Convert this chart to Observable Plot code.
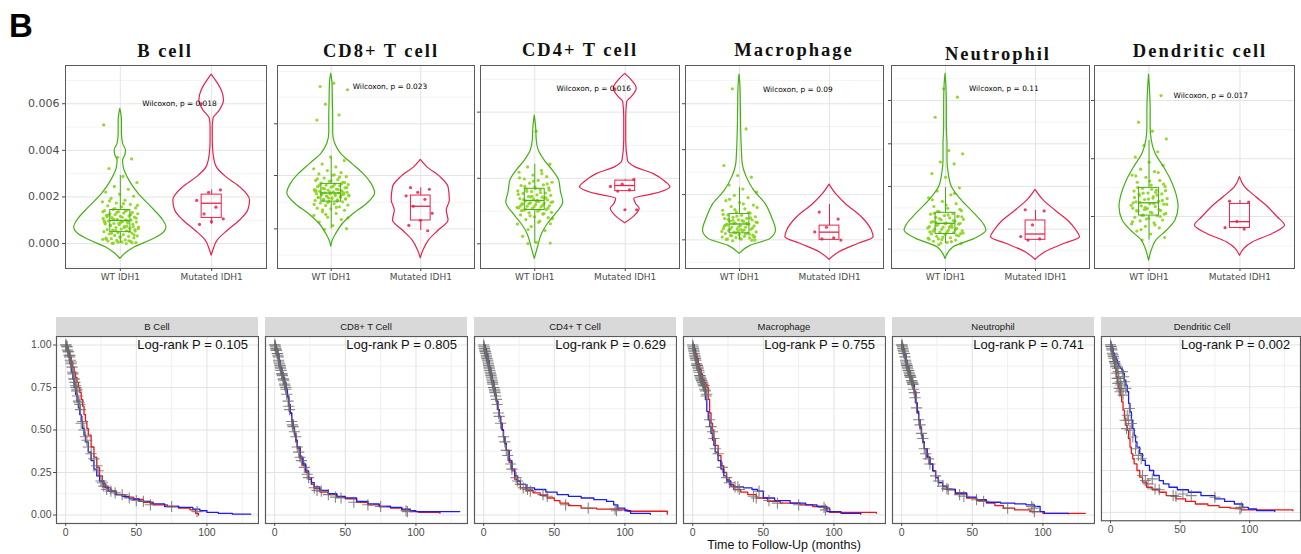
<!DOCTYPE html>
<html>
<head>
<meta charset="utf-8">
<script src="https://cdn.jsdelivr.net/npm/d3@7"></script>
<script src="https://cdn.jsdelivr.net/npm/@observablehq/plot@0.6"></script>
<style>
  html, body { margin: 0; padding: 0; background: #fff; }
  #fig { position: relative; width: 1301px; height: 554px; overflow: hidden; background: #fff; }
  .abs { position: absolute; }
  .title { font-family: "Liberation Serif", "DejaVu Serif", serif; font-weight: bold; font-size: 18.5px; letter-spacing: 2px; color: #111; white-space: nowrap; transform: translateX(-50%); }
  .strip { background: #d9d9d9; font-family: "Liberation Sans", Arial, sans-serif; font-size: 9.5px; color: #1a1a1a; text-align: center; line-height: 19px; height: 19px; }
</style>
</head>
<body>
<div id="fig"></div>
<script>
// ---------------- DATA ----------------
// Top row: immune-cell infiltration (values in units of 10^-3) by IDH1 status
const cellTitles = ["B cell", "CD8+ T cell", "CD4+ T cell", "Macrophage", "Neutrophil", "Dendritic cell"];
const groupLabels = ["WT IDH1", "Mutated IDH1"];
const wilcoxonP = ["0.018", "0.023", "0.016", "0.09", "0.11", "0.017"];

// violin outlines: [value, half-width]
const violinWT_B = [[5.78,0],[5.28,0.018],[4.71,0.018],[4.28,0.03],[3.99,0.062],[3.78,0.055],[3.56,0.03],[3.28,0.036],[2.70,0.10],[2.13,0.20],[1.56,0.34],[0.99,0.47],[0.70,0.505],[0.41,0.46],[0.13,0.33],[-0.16,0.16],[-0.44,0.054],[-0.66,0]];
const violinMut_B = [[7.25,0],[6.85,0.07],[6.57,0.11],[6.14,0.135],[5.71,0.09],[5.35,0.02],[5.0,0.012],[4.42,0.012],[3.85,0.02],[3.28,0.055],[2.85,0.16],[2.42,0.31],[1.85,0.42],[1.42,0.40],[0.99,0.31],[0.56,0.18],[0.13,0.065],[-0.30,0.018],[-0.52,0]];
const violinWT_CD8 = [[7.28,0],[6.85,0.015],[6.14,0.018],[5.42,0.022],[4.71,0.022],[4.28,0.044],[3.85,0.11],[3.42,0.235],[2.99,0.36],[2.56,0.45],[2.16,0.49],[1.70,0.40],[1.27,0.25],[0.84,0.13],[0.41,0.055],[0.13,0.018],[-0.13,0]];
const violinMut_CD8 = [[3.59,0],[3.28,0.072],[2.85,0.22],[2.42,0.31],[1.85,0.325],[1.42,0.29],[0.99,0.31],[0.56,0.2],[0.13,0.09],[-0.30,0.03],[-0.63,0]];
const violinWT_CD4 = [[5.49,0],[4.99,0.015],[4.42,0.022],[3.99,0.044],[3.56,0.11],[3.13,0.2],[2.70,0.27],[2.20,0.29],[1.77,0.315],[1.27,0.235],[0.84,0.145],[0.41,0.08],[-0.16,0.036],[-0.66,0]];
const violinMut_CD4 = [[7.28,0],[7.0,0.072],[6.64,0.127],[6.28,0.072],[6.07,0.022],[5.42,0.011],[4.42,0.011],[3.56,0.03],[3.28,0.11],[2.99,0.31],[2.63,0.45],[2.42,0.5],[2.13,0.33],[1.92,0.10],[1.70,0.12],[1.49,0.16],[1.20,0.11],[0.87,0]];
const violinWT_Mac = [[7.25,0],[6.71,0.011],[5.85,0.015],[5.0,0.018],[4.13,0.025],[3.42,0.036],[2.85,0.08],[2.27,0.163],[1.70,0.29],[1.13,0.36],[0.56,0.405],[0.20,0.345],[-0.09,0.127],[-0.44,0]];
const violinMut_Mac = [[2.53,0],[2.13,0.072],[1.70,0.18],[1.13,0.36],[0.56,0.47],[0.27,0.49],[-0.01,0.325],[-0.37,0.11],[-0.70,0]];
const violinWT_Neu = [[7.28,0],[6.71,0.011],[5.85,0.015],[5.0,0.015],[4.28,0.022],[3.56,0.022],[2.99,0.036],[2.42,0.072],[1.85,0.18],[1.27,0.325],[0.77,0.435],[0.56,0.455],[0.20,0.325],[-0.16,0.09],[-0.66,0]];
const violinMut_Neu = [[2.30,0],[1.85,0.09],[1.42,0.22],[0.99,0.36],[0.56,0.455],[0.27,0.495],[-0.01,0.325],[-0.37,0.11],[-0.70,0]];
const violinWT_DC = [[7.25,0],[6.57,0.011],[5.71,0.018],[4.99,0.018],[4.42,0.03],[3.85,0.072],[3.28,0.163],[2.70,0.245],[2.13,0.3],[1.56,0.325],[0.99,0.29],[0.56,0.2],[0.13,0.08],[-0.30,0.03],[-0.73,0]];
const violinMut_DC = [[2.85,0],[2.42,0.055],[1.99,0.18],[1.56,0.31],[1.13,0.415],[0.77,0.495],[0.41,0.36],[0.06,0.145],[-0.52,0]];

// boxes: [lower whisker, q1, median, q3, upper whisker]
const boxWT = [[0.01,0.49,0.99,1.44,2.92],[0.63,1.80,2.17,2.56,3.70],[0.0,1.44,1.85,2.35,3.40],[0.16,0.44,0.84,1.27,2.40],[0.0,0.41,0.87,1.32,2.40],[0.15,1.20,1.75,2.39,4.42]];
const boxMut = [[0.82,1.10,1.73,2.10,2.30],[0.56,0.99,1.60,2.06,2.39],[2.25,2.25,2.49,2.70,2.75],[0.16,0.16,0.49,0.77,1.67],[0.16,0.16,0.41,0.99,1.42],[0.62,0.67,0.94,1.70,1.85]];

// individual samples
const pointsWT_B = [0.02,0.04,0.07,0.11,0.09,0.14,0.18,0.16,0.21,0.24,0.27,0.23,0.31,0.35,0.33,0.38,0.42,0.45,0.47,0.51,0.55,0.58,0.54,0.62,0.6,0.66,0.69,0.71,0.74,0.77,0.73,0.81,0.84,0.88,0.86,0.92,0.95,0.97,1.01,1.04,1.08,1.02,1.11,1.14,1.17,1.21,1.19,1.24,1.28,1.31,1.27,1.34,1.37,1.41,1.43,1.47,1.53,1.58,1.62,1.68,1.74,1.79,1.86,1.94,2.03,2.12,2.21,2.33,2.45,2.62,2.88,3.22,3.63,3.7,5.09,0.0,0.01,0.6,0.9,1.15,
  0.52,0.57,0.64,0.68,0.79,0.83,0.87,0.91,0.96,1.05,1.09,1.13,1.22,1.25,1.33,1.36,1.39,0.44,0.37,0.29,0.19,0.12,1.5,1.64,1.71,1.83,0.03,0.06,0.97,0.74];
const pointsMut_B = [6.0,2.3,2.2,1.85,1.56,1.27,1.06,0.94,0.82];
const pointsWT_CD8 = [0.61,0.64,0.77,0.92,1.03,1.13,1.21,1.29,1.36,1.43,1.49,1.52,1.58,1.63,1.65,1.71,1.74,1.79,1.81,1.85,1.88,1.9,1.92,1.96,1.97,2.0,2.03,2.05,2.06,2.09,2.12,2.13,2.14,2.17,2.18,2.2,2.22,2.24,2.26,2.29,2.31,2.33,2.37,2.39,2.42,2.44,2.48,2.51,2.53,2.55,2.59,2.63,2.67,2.71,2.74,2.81,2.87,2.93,2.99,3.04,3.13,3.21,3.29,3.41,3.56,3.72,5.3,5.52,5.98,6.6,6.88,6.74,2.1,1.95,2.25,
  1.82,1.86,1.91,1.94,1.99,2.01,2.04,2.08,2.11,2.15,2.19,2.21,2.27,2.32,2.35,2.4,2.45,2.5,2.57,1.76,1.68,1.55,1.45,2.62,2.69,2.78,2.85,1.25,1.1,2.95];
const pointsMut_CD8 = [2.4,2.33,2.2,2.05,1.9,1.6,1.3,1.0,0.78,0.55];
const pointsWT_CD4 = [0.0,0.02,0.05,0.31,0.56,0.73,0.84,0.96,1.03,1.11,1.15,1.23,1.26,1.32,1.34,1.39,1.43,1.46,1.51,1.53,1.57,1.6,1.62,1.67,1.69,1.73,1.75,1.79,1.81,1.83,1.87,1.91,1.93,1.99,2.01,2.07,2.09,2.15,2.17,2.23,2.26,2.31,2.34,2.39,2.42,2.49,2.52,2.59,2.63,2.71,2.77,2.87,2.94,3.06,3.14,3.29,3.41,4.82,1.7,1.95,2.0,1.55,
  1.45,1.48,1.52,1.58,1.61,1.64,1.71,1.77,1.85,1.89,1.97,2.03,2.11,2.19,2.24,2.29,2.36,1.41,1.29,1.19,1.07,0.91,2.45,2.56,2.68,2.82,3.0,0.6,0.85,1.8];
const pointsMut_CD4 = [6.64,2.75,2.55,2.45,2.3,2.25,1.45,1.45];
const pointsWT_Mac = [0.12,0.15,0.19,0.2,0.24,0.26,0.28,0.31,0.35,0.36,0.38,0.43,0.45,0.49,0.5,0.55,0.56,0.61,0.63,0.65,0.7,0.71,0.76,0.77,0.82,0.84,0.89,0.9,0.95,0.96,1.01,1.02,1.07,1.08,1.13,1.15,1.21,1.23,1.31,1.35,1.43,1.49,1.59,1.65,1.76,1.84,1.97,2.07,2.21,2.34,2.51,2.85,2.92,3.35,4.92,6.64,0.3,0.6,0.8,0.4,
  0.46,0.52,0.58,0.62,0.67,0.73,0.79,0.83,0.86,0.92,0.98,1.04,1.1,1.18,1.25,0.41,0.33,0.27,0.22,0.17,1.33,1.46,1.55,1.7,1.9,0.14,0.52,0.75,0.88,1.0];
const pointsMut_Mac = [1.35,1.05,0.7,0.5,0.25,0.2,0.15];
const pointsWT_Neu = [-0.05,0.0,0.05,0.1,0.15,0.17,0.23,0.25,0.31,0.33,0.39,0.41,0.47,0.49,0.55,0.57,0.63,0.65,0.71,0.73,0.79,0.81,0.87,0.88,0.94,0.96,1.02,1.04,1.1,1.12,1.18,1.2,1.26,1.28,1.36,1.41,1.51,1.59,1.71,1.81,1.96,2.09,2.26,2.39,2.85,3.0,3.42,3.5,3.85,3.99,5.42,6.28,6.64,0.5,0.7,0.2,
  0.43,0.48,0.53,0.59,0.61,0.67,0.75,0.77,0.83,0.86,0.91,0.99,1.07,1.15,1.23,1.3,0.36,0.28,0.19,0.08,1.38,1.47,1.65,1.88,2.15,0.02,0.45,0.69,0.92,1.16];
const pointsMut_Neu = [1.45,1.4,0.8,0.3,0.2,0.15];
const pointsWT_DC = [0.15,0.26,0.41,0.54,0.67,0.74,0.84,0.89,0.97,1.01,1.09,1.13,1.19,1.22,1.29,1.32,1.39,1.42,1.49,1.52,1.59,1.62,1.69,1.71,1.79,1.82,1.89,1.93,2.01,2.05,2.13,2.17,2.25,2.29,2.37,2.44,2.51,2.63,2.71,2.84,2.94,3.09,3.19,3.36,3.49,3.71,3.94,4.21,4.49,4.82,5.21,6.35,1.5,1.75,2.2,
  1.21,1.26,1.35,1.41,1.46,1.55,1.64,1.72,1.77,1.85,1.91,1.98,2.08,2.16,2.27,2.33,2.41,1.16,1.05,0.93,0.8,0.6,2.55,2.68,2.9,3.05,1.45,1.68,1.95,2.12];
const pointsMut_DC = [1.82,1.78,0.95,0.68,0.62];

// Bottom row: Kaplan-Meier overall survival, [months, survival]
const stripTitles = ["B Cell", "CD8+ T Cell", "CD4+ T Cell", "Macrophage", "Neutrophil", "Dendritic Cell"];
const logRankP = ["0.105", "0.805", "0.629", "0.755", "0.741", "0.002"];
const kmRed_B = [[0,1],[1,0.98],[2,0.955],[3,0.93],[4,0.9],[5,0.87],[6,0.84],[7,0.81],[8,0.78],[9,0.75],[10,0.72],[11,0.68],[12,0.64],[13,0.59],[14,0.55],[15,0.51],[16,0.47],[18,0.4],[20,0.34],[22,0.28],[24,0.23],[26,0.185],[28,0.16],[32,0.14],[36,0.12],[42,0.105],[48,0.092],[55,0.075],[62,0.06],[72,0.05],[80,0.04],[88,0.03],[92,0.01],[94,0.0]];
const kmBlue_B = [[0,1],[1,0.97],[2,0.93],[3,0.89],[4,0.84],[5,0.8],[6,0.75],[7,0.71],[8,0.67],[9,0.63],[10,0.59],[11,0.55],[12,0.51],[13,0.47],[14,0.43],[16,0.37],[18,0.32],[20,0.27],[22,0.23],[24,0.2],[27,0.165],[30,0.14],[35,0.12],[40,0.11],[45,0.095],[52,0.08],[60,0.065],[70,0.05],[80,0.045],[90,0.035],[95,0.025],[100,0.015],[108,0.01],[118,0.005],[131,0.005]];
const censor_B = [[0,1],[1,0.99],[2,0.96],[3,0.94],[4,0.9],[4.5,0.87],[5,0.84],[6,0.8],[6.5,0.78],[7,0.76],[8,0.74],[8.5,0.7],[9,0.67],[10,0.65],[11,0.54],[14,0.46],[15,0.44],[20,0.33],[22,0.29],[25,0.2],[26,0.19],[29,0.15],[32,0.14],[35,0.13],[40,0.12],[45,0.1],[50,0.085],[55,0.08],[60,0.06],[75,0.05],[93,0.02],
  [0.3,1],[0.8,0.99],[1.3,0.97],[1.8,0.96],[2.3,0.94],[2.8,0.93],[3.3,0.91],[3.8,0.89],[5.2,0.83],[5.8,0.8],[7.3,0.75],[7.8,0.73],[9.5,0.66],[10.5,0.62],[12,0.55],[13,0.5],[16,0.4],[18,0.36],[23,0.26],[27,0.17]];
const kmRed_CD8 = [[0,1],[1,0.97],[2,0.94],[3,0.9],[4,0.86],[5,0.83],[6,0.8],[7,0.77],[8,0.74],[9,0.69],[10,0.64],[11,0.6],[12,0.55],[13,0.51],[14,0.47],[15,0.43],[16,0.39],[18,0.33],[20,0.29],[22,0.25],[24,0.21],[26,0.18],[28,0.155],[32,0.135],[38,0.12],[44,0.105],[50,0.095],[58,0.075],[66,0.06],[74,0.05],[82,0.04],[90,0.03],[96,0.02],[102,0.015],[117,0.01]];
const kmBlue_CD8 = [[0,1],[1,0.98],[2,0.95],[3,0.91],[4,0.87],[5,0.84],[6,0.81],[7,0.78],[8,0.74],[9,0.7],[10,0.65],[11,0.6],[12,0.56],[13,0.52],[14,0.48],[15,0.44],[16,0.4],[18,0.34],[20,0.3],[22,0.26],[24,0.22],[26,0.19],[28,0.165],[32,0.145],[38,0.125],[44,0.11],[50,0.1],[58,0.08],[66,0.065],[74,0.05],[82,0.045],[90,0.035],[96,0.025],[100,0.02],[131,0.02]];
const censor_CD8 = [[0,1],[0.5,0.99],[1,0.97],[2,0.95],[2.5,0.93],[3,0.9],[4,0.87],[4.5,0.85],[5,0.83],[5.5,0.82],[6,0.8],[6.5,0.79],[7,0.77],[8,0.74],[8.5,0.71],[10,0.64],[13,0.52],[14,0.49],[15,0.46],[19,0.32],[21,0.28],[23,0.24],[24,0.22],[28,0.16],[30,0.145],[33,0.14],[38,0.12],[43,0.105],[47,0.1],[56,0.075],[66,0.06],[75,0.05],[93,0.025],[94,0.02],
  [0.3,1],[0.8,0.98],[1.3,0.97],[1.8,0.95],[2.3,0.94],[2.8,0.91],[3.3,0.89],[3.8,0.88],[4.3,0.86],[5.2,0.83],[6.2,0.8],[7.3,0.76],[7.8,0.75],[9.5,0.67],[10.5,0.62],[12,0.55],[12.5,0.53],[16,0.4],[17,0.37],[18,0.34]];
const kmRed_CD4 = [[0,1],[1,0.97],[2,0.93],[3,0.9],[4,0.86],[5,0.82],[6,0.79],[7,0.75],[8,0.71],[9,0.67],[10,0.62],[11,0.58],[12,0.54],[13,0.5],[14,0.46],[15,0.42],[16,0.38],[18,0.31],[20,0.26],[22,0.21],[24,0.18],[26,0.16],[30,0.145],[35,0.13],[40,0.115],[45,0.1],[50,0.085],[54,0.07],[60,0.055],[69,0.04],[80,0.035],[95,0.03],[102,0.022],[130,0.022],[130,0.005]];
const kmBlue_CD4 = [[0,1],[1,0.98],[2,0.95],[3,0.91],[4,0.87],[5,0.83],[6,0.79],[7,0.75],[8,0.71],[9,0.67],[10,0.62],[11,0.58],[12,0.54],[13,0.5],[14,0.46],[15,0.42],[16,0.38],[18,0.32],[20,0.27],[22,0.23],[24,0.2],[26,0.18],[30,0.16],[36,0.15],[44,0.135],[52,0.12],[60,0.11],[69,0.1],[78,0.09],[87,0.08],[92,0.06],[95,0.04],[100,0.025],[104,0.01],[118,0.004]];
const censor_CD4 = [[0,1],[0.5,0.98],[1,0.96],[1.5,0.95],[2,0.93],[3,0.9],[3.5,0.88],[4,0.86],[5,0.83],[5.5,0.81],[6,0.79],[6.5,0.77],[7,0.75],[7.5,0.74],[8,0.72],[8.5,0.7],[9,0.68],[11,0.58],[14,0.46],[15,0.43],[19,0.3],[20,0.27],[23,0.22],[24,0.2],[26,0.18],[28,0.16],[31,0.15],[33,0.14],[42,0.12],[45,0.11],[58,0.06],[74,0.04],[93,0.035],[94,0.025],
  [0.3,0.99],[0.8,0.97],[1.3,0.96],[1.8,0.94],[2.3,0.92],[2.8,0.91],[3.3,0.89],[3.8,0.87],[4.3,0.85],[4.7,0.84],[5.2,0.82],[5.8,0.8],[6.2,0.78],[7.2,0.75],[7.8,0.73],[9.5,0.65],[10.5,0.6],[12,0.54],[16,0.38],[17,0.35]];
const kmRed_Mac = [[0,1],[1,0.98],[2,0.95],[3,0.92],[4,0.89],[5,0.86],[6,0.83],[7,0.8],[8,0.78],[9,0.77],[10,0.75],[11,0.68],[12,0.6],[13,0.54],[14,0.5],[15,0.45],[16,0.41],[18,0.35],[20,0.29],[22,0.25],[24,0.21],[26,0.18],[29,0.15],[34,0.135],[39,0.12],[45,0.1],[53,0.08],[62,0.07],[76,0.06],[85,0.05],[93,0.04],[97,0.015],[130,0.01]];
const kmBlue_Mac = [[0,1],[1,0.97],[2,0.93],[3,0.89],[4,0.86],[5,0.83],[6,0.8],[7,0.77],[8,0.75],[9,0.68],[10,0.61],[11,0.56],[12,0.52],[13,0.48],[14,0.44],[15,0.41],[16,0.37],[18,0.32],[20,0.27],[22,0.23],[24,0.2],[27,0.17],[30,0.165],[36,0.16],[42,0.15],[46,0.14],[50,0.1],[58,0.085],[69,0.07],[80,0.06],[88,0.05],[95,0.02],[105,0.01],[119,0.005]];
const censor_Mac = [[0,1],[0.5,0.98],[1,0.96],[1.5,0.94],[2,0.92],[3,0.88],[4,0.86],[4.5,0.84],[5,0.82],[5.5,0.81],[6,0.8],[6.5,0.79],[7,0.78],[8,0.76],[9,0.73],[10,0.71],[14,0.49],[15,0.45],[18,0.36],[21,0.28],[24,0.22],[26,0.19],[32,0.165],[33,0.15],[43,0.11],[45,0.1],[47,0.14],[54,0.085],[60,0.07],[75,0.06],[93,0.045],[94,0.03],
  [0.3,0.99],[0.8,0.97],[1.3,0.95],[1.8,0.93],[2.3,0.91],[2.8,0.89],[3.3,0.88],[3.8,0.87],[4.3,0.85],[5.2,0.82],[5.8,0.8],[6.2,0.79],[7.3,0.77],[7.8,0.76],[8.5,0.74],[9.5,0.7],[12,0.56],[13,0.52],[16,0.39],[30,0.165]];
const kmRed_Neu = [[0,1],[1,0.97],[2,0.94],[3,0.9],[4,0.87],[5,0.84],[6,0.81],[7,0.78],[8,0.76],[9,0.73],[10,0.66],[11,0.6],[12,0.56],[13,0.52],[14,0.47],[15,0.43],[16,0.39],[18,0.34],[20,0.3],[22,0.26],[24,0.22],[26,0.19],[29,0.165],[32,0.15],[38,0.125],[46,0.1],[53,0.085],[60,0.07],[66,0.055],[72,0.04],[80,0.03],[91,0.02],[100,0.01],[130,0.01]];
const kmBlue_Neu = [[0,1],[1,0.98],[2,0.95],[3,0.91],[4,0.88],[5,0.85],[6,0.82],[7,0.79],[8,0.77],[9,0.72],[10,0.66],[11,0.61],[12,0.56],[13,0.51],[14,0.47],[15,0.43],[16,0.39],[18,0.34],[20,0.3],[22,0.26],[24,0.22],[26,0.19],[29,0.17],[32,0.15],[38,0.13],[46,0.105],[53,0.09],[60,0.075],[70,0.07],[80,0.065],[88,0.06],[94,0.05],[98,0.02],[101,0.01],[118,0.008]];
const censor_Neu = [[0,1],[0.5,0.99],[1,0.97],[2,0.95],[3,0.9],[3.5,0.88],[4,0.87],[5,0.85],[5.5,0.83],[6,0.82],[6.5,0.81],[7,0.79],[7.5,0.78],[8,0.77],[8.5,0.74],[9,0.72],[13,0.53],[14,0.48],[15,0.45],[19,0.33],[20,0.3],[24,0.23],[26,0.2],[29,0.17],[32,0.155],[33,0.15],[41,0.12],[44,0.11],[53,0.09],[58,0.08],[75,0.04],[92,0.05],[93,0.04],[94,0.02],
  [0.3,1],[0.8,0.98],[1.3,0.96],[1.8,0.95],[2.3,0.93],[2.8,0.91],[3.3,0.89],[3.8,0.88],[4.3,0.86],[4.7,0.85],[5.2,0.84],[5.8,0.82],[6.2,0.81],[7.2,0.79],[7.8,0.77],[9.5,0.69],[10.5,0.63],[12,0.56],[16,0.39],[17,0.36]];
const kmRed_DC = [[0,1],[1,0.96],[2,0.91],[3,0.86],[4,0.81],[5,0.77],[6,0.74],[7,0.7],[8,0.66],[9,0.61],[10,0.56],[11,0.52],[12,0.49],[13,0.44],[14,0.39],[15,0.35],[16,0.32],[17,0.29],[19,0.25],[21,0.21],[23,0.18],[26,0.15],[30,0.135],[35,0.12],[40,0.1],[47,0.08],[54,0.065],[61,0.05],[70,0.04],[78,0.03],[86,0.025],[94,0.015],[131,0.01]];
const kmBlue_DC = [[0,1],[1,0.98],[2,0.95],[3,0.93],[4,0.91],[5,0.89],[6,0.87],[7,0.86],[8,0.85],[9,0.83],[10,0.79],[11,0.76],[12,0.72],[13,0.65],[14,0.6],[15,0.55],[16,0.5],[17,0.46],[18,0.42],[19,0.39],[21,0.35],[23,0.31],[25,0.28],[28,0.25],[31,0.22],[35,0.19],[38,0.17],[42,0.15],[48,0.135],[56,0.12],[65,0.1],[75,0.08],[82,0.065],[89,0.05],[95,0.03],[99,0.02],[105,0.01],[118,0.005]];
const censor_DC = [[0,1],[0.5,0.99],[1,0.97],[2,0.93],[3,0.9],[4,0.88],[5,0.86],[5.5,0.84],[6,0.8],[7,0.78],[7.5,0.76],[8,0.73],[9,0.7],[10,0.78],[11,0.74],[12,0.58],[13,0.55],[14,0.49],[16,0.45],[18,0.38],[20,0.34],[23,0.22],[25,0.19],[27,0.17],[30,0.2],[32,0.14],[35,0.135],[45,0.1],[47,0.095],[52,0.11],[58,0.1],[75,0.09],[93,0.02],[94,0.03],
  [0.3,0.99],[0.8,0.98],[1.3,0.95],[1.8,0.94],[2.3,0.92],[2.8,0.9],[3.3,0.89],[3.8,0.87],[4.3,0.83],[4.7,0.8],[5.2,0.77],[6.2,0.74],[6.8,0.72],[8.5,0.84],[9.5,0.81],[10.5,0.55],[11.5,0.5],[13.5,0.62],[15,0.53],[22,0.32]];

// ---------------- LAYOUT / STYLE ----------------
const fig = document.getElementById("fig");
const GREEN_LINE = "#45b012", GREEN_PT = "#8ad417", RED = "#e8224c";
const topFrames = [[65,266],[277,474],[480,679],[685,883],[891,1089],[1094,1294]];
const topTitleX = [165, 381, 580, 794, 998, 1200];
const topTitleY = [41, 41, 40, 40, 44, 41];
const topTicks = [ // major/minor gridline positions per panel (same units)
  {major:[0,2,4,6], minor:[-1,1,3,5,7]},
  {major:[0.63,2.92,5.14], minor:[-0.49,1.77,4.03,6.28,7.38]},
  {major:[-0.01,2.80,5.64], minor:[1.39,4.21,7.05]},
  {major:[0.16,2.10,4.03,6.0], minor:[-0.80,1.13,3.06,5.02,7.0]},
  {major:[0.62,2.45,4.28,6.14], minor:[-0.31,1.53,3.36,5.21,7.07]},
  {major:[1.16,3.64,6.14], minor:[-0.11,2.40,4.89,7.4]}
];
const violinsWT = [violinWT_B, violinWT_CD8, violinWT_CD4, violinWT_Mac, violinWT_Neu, violinWT_DC];
const violinsMut = [violinMut_B, violinMut_CD8, violinMut_CD4, violinMut_Mac, violinMut_Neu, violinMut_DC];
const ptsWT = [pointsWT_B, pointsWT_CD8, pointsWT_CD4, pointsWT_Mac, pointsWT_Neu, pointsWT_DC];
const ptsMut = [pointsMut_B, pointsMut_CD8, pointsMut_CD4, pointsMut_Mac, pointsMut_Neu, pointsMut_DC];
const wilcoxPos = [[1.24,6.0],[1.24,6.74],[1.24,6.64],[1.26,6.6],[1.26,6.64],[1.27,6.35]];

function place(el, left, top) {
  const d = document.createElement("div");
  d.className = "abs"; d.style.left = left + "px"; d.style.top = top + "px";
  d.appendChild(el); fig.appendChild(d); return d;
}
function jitter(i, w) { // deterministic spread for point positions
  const u = (i * 0.6180339887 + 0.31) % 1;
  return (u - 0.5) * 2 * w;
}

// "B" panel label
const bl = document.createElement("div");
bl.textContent = "B";
bl.style.cssText = "font-family:'Liberation Sans',Arial,sans-serif;font-weight:bold;font-size:33px;color:#000;line-height:1;";
place(bl, 9, 9);

// ---------------- TOP ROW ----------------
topFrames.forEach(([L, R], i) => {
  const T = 65, B = 268;
  const ml = i === 0 ? 50 : 4, mr = 1, mt = 1, mb = 22;
  const wt = violinsWT[i], mu = violinsMut[i];
  const bw = boxWT[i], bm = boxMut[i];
  const boxes = [{c:1, s:bw, col:GREEN_LINE}, {c:2, s:bm, col:RED}];
  const ptsA = ptsWT[i].map((v, k) => ({x: 1 + jitter(k, 0.2), y: v}));
  const ptsB = ptsMut[i].map((v, k) => ({x: 2 + jitter(k + 3, 0.17), y: v}));
  const plot = Plot.plot({
    width: (R - L) + ml + mr, height: (B - T) + mt + mb,
    marginLeft: ml, marginRight: mr, marginTop: mt, marginBottom: mb,
    style: {fontFamily: "'DejaVu Sans', sans-serif", fontSize: "9px", color: "#4d4d4d", background: "transparent"},
    x: {domain: [0.4, 2.6], axis: null},
    y: {domain: [-1.07, 7.64], axis: null},
    marks: [
      Plot.gridY(topTicks[i].minor, {stroke: "#f0f0f0", strokeOpacity: 1, strokeWidth: 0.8}),
      Plot.gridY(topTicks[i].major, {stroke: "#e4e4e4", strokeOpacity: 1, strokeWidth: 1}),
      Plot.gridX([1, 2], {stroke: "#e4e4e4", strokeOpacity: 1}),
      Plot.dot(ptsA, {x: "x", y: "y", r: 1.6, fill: GREEN_PT, fillOpacity: 0.9}),
      Plot.dot(ptsB, {x: "x", y: "y", r: 1.6, fill: RED, fillOpacity: 0.85}),
      Plot.areaX(wt, {y: d => d[0], x1: d => 1 - d[1], x2: d => 1 + d[1], fill: "none", stroke: GREEN_LINE, strokeWidth: 1.2, curve: "monotone-y"}),
      Plot.areaX(mu, {y: d => d[0], x1: d => 2 - d[1], x2: d => 2 + d[1], fill: "none", stroke: RED, strokeWidth: 1.2, curve: "monotone-y"}),
      Plot.rect(boxes, {x1: d => d.c - 0.11, x2: d => d.c + 0.11, y1: d => d.s[1], y2: d => d.s[3], fill: "none", stroke: d => d.col, strokeWidth: 1}),
      Plot.ruleY(boxes, {y: d => d.s[2], x1: d => d.c - 0.11, x2: d => d.c + 0.11, stroke: d => d.col, strokeWidth: 1.3}),
      Plot.ruleX(boxes, {x: "c", y1: d => d.s[3], y2: d => d.s[4], stroke: d => d.col}),
      Plot.ruleX(boxes, {x: "c", y1: d => d.s[0], y2: d => d.s[1], stroke: d => d.col}),
      Plot.text([`Wilcoxon, p = ${wilcoxonP[i]}`], {x: wilcoxPos[i][0], y: wilcoxPos[i][1], textAnchor: "start", fontSize: 7.4, fill: "#000", fontWeight: 500}),
      Plot.frame({stroke: "#5a5a5a", strokeWidth: 1}),
      Plot.axisX({ticks: [1, 2], tickFormat: d => groupLabels[d - 1], tickSize: 3, tickPadding: 2, fontSize: 9, label: null}),
      i === 0
        ? Plot.axisY({ticks: [0, 2, 4, 6], tickFormat: d => (d / 1000).toFixed(3), tickSize: 3, tickPadding: 3, fontSize: 11, label: null})
        : Plot.axisY({ticks: topTicks[i].major, tickFormat: () => "", tickSize: 3, label: null})
    ]
  });
  place(plot, L - ml, T - mt);
  const t = document.createElement("div");
  t.className = "title"; t.textContent = cellTitles[i];
  place(t, topTitleX[i], topTitleY[i]);
});

// ---------------- BOTTOM ROW ----------------
const botLefts = [56, 265, 474, 683, 892, 1101];
const kmRed = [kmRed_B, kmRed_CD8, kmRed_CD4, kmRed_Mac, kmRed_Neu, kmRed_DC];
const kmBlue = [kmBlue_B, kmBlue_CD8, kmBlue_CD4, kmBlue_Mac, kmBlue_Neu, kmBlue_DC];
const censors = [censor_B, censor_CD8, censor_CD4, censor_Mac, censor_Neu, censor_DC];

botLefts.forEach((L, i) => {
  const T = 336, B = 523, W = 202;
  const ml = i === 0 ? 32 : 2, mr = 1, mt = 1, mb = 22;
  const plot = Plot.plot({
    width: W + ml + mr, height: (B - T) + mt + mb,
    marginLeft: ml, marginRight: mr, marginTop: mt, marginBottom: mb,
    style: {fontFamily: "'Liberation Sans', Arial, sans-serif", fontSize: "10.5px", color: "#4d4d4d", background: "transparent"},
    x: {domain: [-6.5, 136.5], axis: null},
    y: {domain: [-0.05, 1.05], axis: null},
    marks: [
      Plot.gridX([25, 75, 125], {stroke: "#f0f0f0", strokeOpacity: 1}),
      Plot.gridY([0.125, 0.375, 0.625, 0.875], {stroke: "#f0f0f0", strokeOpacity: 1}),
      Plot.gridX([0, 50, 100], {stroke: "#e2e2e2", strokeOpacity: 1}),
      Plot.gridY([0, 0.25, 0.5, 0.75, 1], {stroke: "#e2e2e2", strokeOpacity: 1}),
      Plot.line(kmRed[i], {x: d => d[0], y: d => d[1], stroke: "#f01414", strokeWidth: 1.3, curve: "step-after"}),
      Plot.line(kmBlue[i], {x: d => d[0], y: d => d[1], stroke: "#1c1ce6", strokeWidth: 1.3, curve: "step-after"}),
      Plot.dot(censors[i], {x: d => d[0], y: d => d[1], symbol: "plus", r: 3.7, stroke: "#6a6a6a", strokeWidth: 1.1, strokeOpacity: 0.8}),
      Plot.text([`Log-rank P = ${logRankP[i]}`], {x: 129, y: 1.0, textAnchor: "end", fontSize: 13, fill: "#111"}),
      Plot.frame({stroke: "#5a5a5a", strokeWidth: 1.2}),
      Plot.axisX({ticks: [0, 50, 100], tickSize: 3, tickPadding: 2, fontSize: 10.5, label: null}),
      ...(i === 0 ? [Plot.axisY({ticks: [0, 0.25, 0.5, 0.75, 1], tickFormat: d => d.toFixed(2), tickSize: 3, tickPadding: 2, fontSize: 10.5, label: null})] : [])
    ]
  });
  place(plot, L - ml, T - mt);
  const s = document.createElement("div");
  s.className = "strip"; s.textContent = stripTitles[i];
  s.style.width = W + "px";
  place(s, L, 317);
});

// shared x-axis title
const xl = document.createElement("div");
xl.textContent = "Time to Follow-Up (months)";
xl.style.cssText = "font-family:'Liberation Sans',Arial,sans-serif;font-size:12.5px;color:#111;white-space:nowrap;transform:translateX(-50%);";
place(xl, 784, 538);
</script>
</body>
</html>
